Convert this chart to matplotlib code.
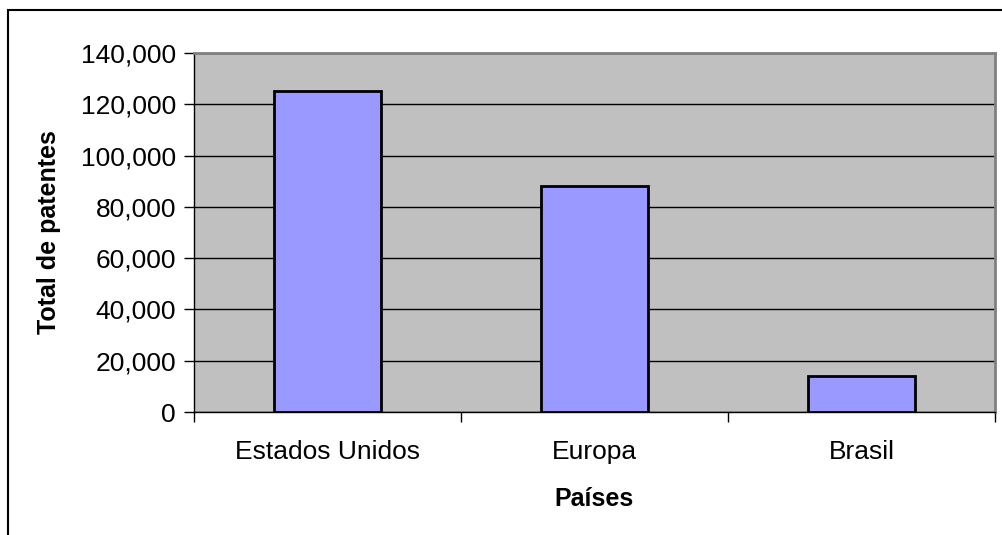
import matplotlib.pyplot as plt
import numpy as np
from matplotlib.patches import Rectangle

paises = ["Estados Unidos", "Europa", "Brasil"]
patentes = [125000, 88000, 14000]

plt.rcParams['font.family'] = ['Liberation Sans', 'DejaVu Sans']

fig = plt.figure(figsize=(10.03, 5.35), dpi=100)
ax = fig.add_axes([194 / 1003, 1 - 412 / 535, (995 - 194) / 1003, (412 - 53) / 535])

x = np.arange(len(paises))
ax.set_facecolor('#C0C0C0')
ax.bar(x, patentes, width=0.4, color='#9999FF', edgecolor='black', linewidth=2, zorder=3)

ax.set_xlim(-0.5, 2.5)
ax.set_ylim(0, 140000)
ax.set_yticks(np.arange(0, 140001, 20000))
ax.set_yticklabels([f"{v:,}" for v in range(0, 140001, 20000)], fontsize=19)
ax.yaxis.grid(True, color='black', linewidth=1, zorder=1)
ax.set_axisbelow(True)

ax.set_xticks(x)
ax.set_xticklabels(paises, fontsize=19)
ax.set_xticks(np.arange(-0.5, 3, 1), minor=True)
ax.tick_params(axis='x', which='major', length=0, pad=20)
ax.tick_params(axis='x', which='minor', length=7, width=1, direction='out')
ax.tick_params(axis='y', length=7, width=1, direction='out', pad=6)

for s in ['top', 'right']:
    ax.spines[s].set_color('#808080')
    ax.spines[s].set_linewidth(2)
for s in ['left', 'bottom']:
    ax.spines[s].set_color('black')
    ax.spines[s].set_linewidth(1)

ax.set_ylabel("Total de patentes", fontsize=18, fontweight='bold', labelpad=14)
ax.set_xlabel("Países", fontsize=18, fontweight='bold', labelpad=17)

fig.patches.append(Rectangle((8 / 1003, -0.05), 1.1, 1 - 10 / 535 + 0.05,
                             transform=fig.transFigure, fill=False,
                             edgecolor='black', linewidth=1.5))

plt.savefig("out.png", dpi=100)
